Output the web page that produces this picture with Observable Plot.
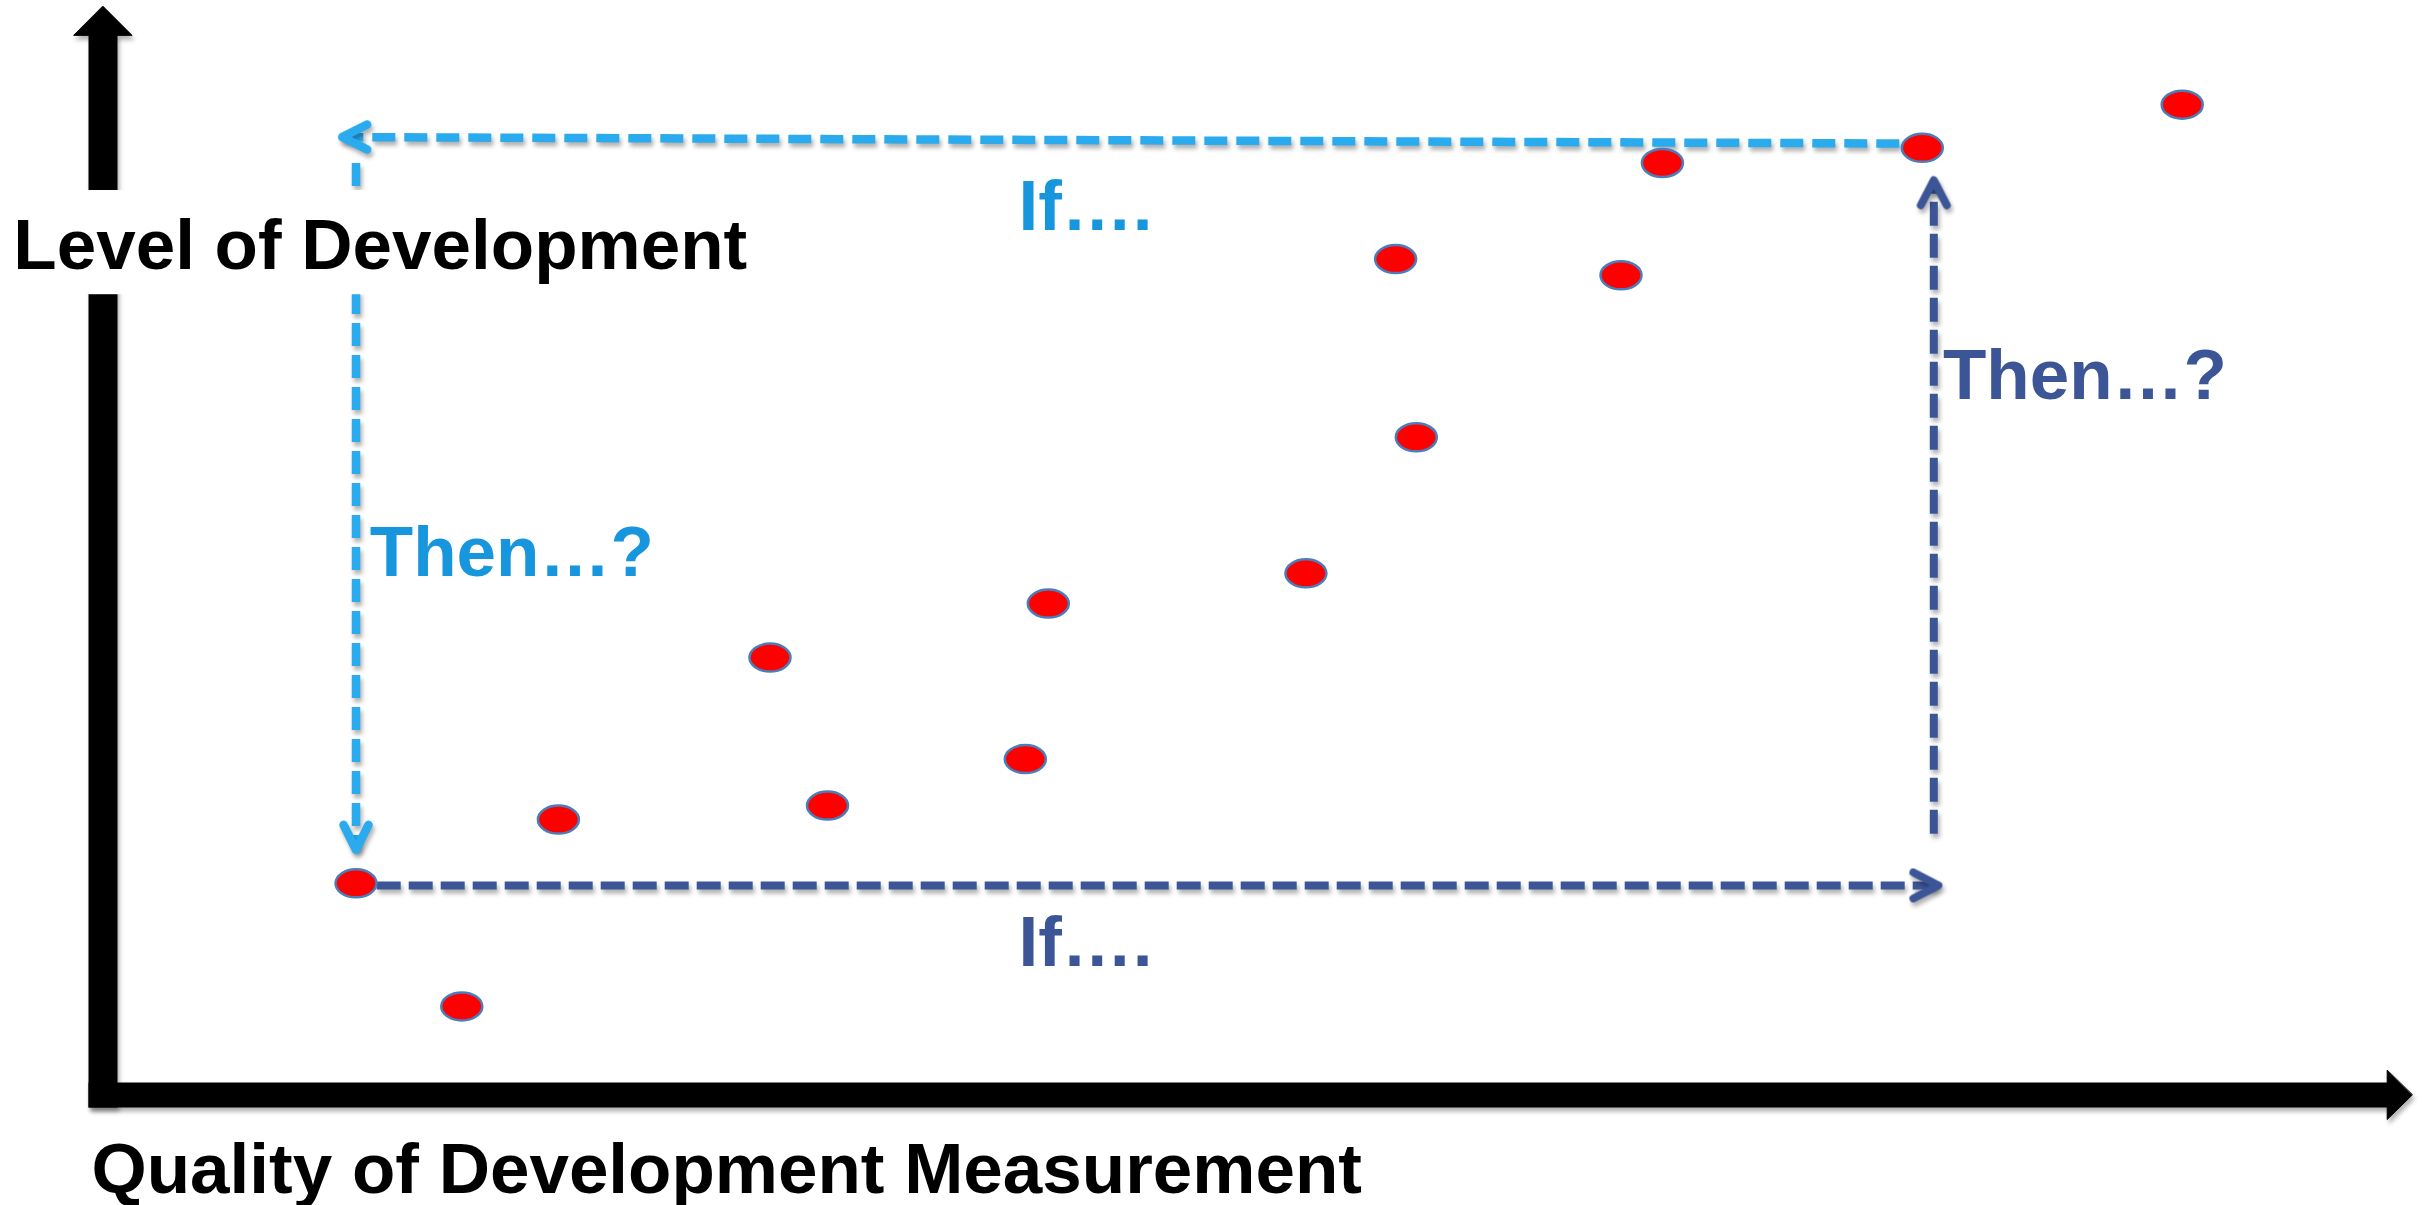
<!DOCTYPE html>
<html>
<head>
<meta charset="utf-8">
<script src="https://cdn.jsdelivr.net/npm/d3@7"></script>
<script src="https://cdn.jsdelivr.net/npm/@observablehq/plot@0.6"></script>
<style>
  html, body { margin: 0; padding: 0; background: #ffffff; }
  #chart svg { display: block; }
  #chart g[aria-label="link"],
  #chart g[aria-label="arrow"],
  #chart g[aria-label="vector"] { filter: drop-shadow(2px 4px 2px rgba(0,0,0,0.3)); }
</style>
</head>
<body>
<div id="chart"></div>
<script>
// ---- Data (x: quality of measurement, y: level of development; 0–100 units) ----
const pointX = [15.6, 11.0, 19.8, 31.5, 29.0, 40.1, 41.1, 52.3, 57.1, 56.2, 66.0, 67.8, 79.1, 90.4];
const pointY = [8.2, 19.6, 25.5, 26.8, 40.5, 31.1, 45.5, 48.3, 60.9, 77.4, 75.9, 86.3, 87.7, 91.7];

// dashed "If / Then" arrows
const arrowGroup = ["light", "light", "dark", "dark"];
const arrowX1 = [78.1, 11.0, 11.9, 79.6];
const arrowY1 = [88.1, 86.3, 19.4, 24.2];
const arrowX2 = [10.4, 11.0, 79.8, 79.6];
const arrowY2 = [88.7, 22.7, 19.4, 84.7];
const arrowDir = ["left", "down", "right", "up"];

// black axes (start, arrow tip)
const axisDir = ["up", "right"];
const axisX1 = [0, -0.63];
const axisY1 = [-1.16, 0];
const axisX2 = [0, 100.4];
const axisY2 = [100.8, 0];

// text labels
const labelText = ["Level of Development", "Quality of Development Measurement", "If….", "Then…?", "If….", "Then…?"];
const labelGroup = ["axis", "axis", "light", "light", "dark", "dark"];
const labelX = [-3.9, -0.5, 39.8, 11.6, 39.8, 80.0];
const labelY = [76.5, -9.1, 80.1, 48.1, 11.9, 64.4];

// white knock-out box behind the y-axis title
const boxX1 = [-4.0], boxX2 = [28.2], boxY1 = [74.1], boxY2 = [83.75];

// ---- Tables built from the arrays ----
const points = pointX.map((x, i) => ({x, y: pointY[i]}));
const arrows = arrowGroup.map((g, i) => ({group: g, x1: arrowX1[i], y1: arrowY1[i], x2: arrowX2[i], y2: arrowY2[i], dir: arrowDir[i]}));
const axes = axisDir.map((d, i) => ({dir: d, x1: axisX1[i], y1: axisY1[i], x2: axisX2[i], y2: axisY2[i]}));
const labels = labelText.map((t, i) => ({text: t, group: labelGroup[i], x: labelX[i], y: labelY[i]}));
const boxes = boxX1.map((x1, i) => ({x1, x2: boxX2[i], y1: boxY1[i], y2: boxY2[i]}));

const rot = {up: 0, right: 90, down: 180, left: -90};
const LIGHT = "#2aabee", LIGHT_TEXT = "#1896dd", DARK = "#3c5597";
const textColor = {axis: "#000000", light: LIGHT_TEXT, dark: DARK};

// custom shapes
const ellipse = {
  draw(context) {
    const rx = 20.5, ry = 14, k = 0.5523;
    context.moveTo(rx, 0);
    context.bezierCurveTo(rx, ry * k, rx * k, ry, 0, ry);
    context.bezierCurveTo(-rx * k, ry, -rx, ry * k, -rx, 0);
    context.bezierCurveTo(-rx, -ry * k, -rx * k, -ry, 0, -ry);
    context.bezierCurveTo(rx * k, -ry, rx, -ry * k, rx, 0);
    context.closePath();
  }
};
const chevron = {draw(context, l, r) { context.moveTo(-r, l); context.lineTo(0, 0); context.lineTo(r, l); }};
const wedge = {draw(context, l, r) { context.moveTo(0, 0); context.lineTo(r, l); context.lineTo(-r, l); context.closePath(); }};

const chart = Plot.plot({
  width: 2427,
  height: 1205,
  marginLeft: 102.5,
  marginRight: 24.5,
  marginTop: 14.5,
  marginBottom: 110.5,
  x: {domain: [0, 100], axis: null},
  y: {domain: [0, 100], axis: null},
  style: {fontFamily: "'Liberation Sans', Arial, Helvetica, sans-serif", background: "#ffffff", overflow: "visible"},
  marks: [
    // black axes: shafts
    Plot.arrow(axes, {filter: d => d.dir === "up", x1: "x1", y1: "y1", x2: "x2", y2: "y2",
      stroke: "#000", strokeWidth: 29, headLength: 0, insetEnd: 28, strokeLinecap: "butt"}),
    Plot.arrow(axes, {filter: d => d.dir === "right", x1: "x1", y1: "y1", x2: "x2", y2: "y2",
      stroke: "#000", strokeWidth: 25, headLength: 0, insetEnd: 24, strokeLinecap: "butt"}),
    // black axes: heads
    Plot.vector(axes, {filter: d => d.dir === "up", x: "x2", y: "y2", rotate: d => rot[d.dir],
      shape: wedge, length: 29, r: 29, anchor: "start", fill: "#000", stroke: "#000", strokeWidth: 1}),
    Plot.vector(axes, {filter: d => d.dir === "right", x: "x2", y: "y2", rotate: d => rot[d.dir],
      shape: wedge, length: 25, r: 24.5, anchor: "start", fill: "#000", stroke: "#000", strokeWidth: 1}),

    // dashed arrows: shafts
    Plot.link(arrows, {filter: d => d.group === "light", x1: "x1", y1: "y1", x2: "x2", y2: "y2",
      stroke: LIGHT, strokeWidth: 8.5, strokeDasharray: "23,9", strokeLinecap: "butt"}),
    Plot.link(arrows, {filter: d => d.group === "dark", x1: "x1", y1: "y1", x2: "x2", y2: "y2",
      stroke: DARK, strokeWidth: 8, strokeDasharray: "24,8", strokeLinecap: "butt"}),
    // dashed arrows: open chevron heads
    Plot.vector(arrows, {filter: d => d.group === "light", x: "x2", y: "y2", rotate: d => rot[d.dir],
      shape: chevron, length: 25, r: 12.5, anchor: "start", stroke: LIGHT, strokeWidth: 8.5,
      strokeLinecap: "round", strokeLinejoin: "round"}),
    Plot.vector(arrows, {filter: d => d.group === "dark", x: "x2", y: "y2", rotate: d => rot[d.dir],
      shape: chevron, length: 25, r: 13, anchor: "start", stroke: DARK, strokeWidth: 8,
      strokeLinecap: "round", strokeLinejoin: "round"}),

    // knock-out behind y title
    Plot.rect(boxes, {x1: "x1", x2: "x2", y1: "y1", y2: "y2", fill: "#ffffff"}),

    // labels
    Plot.text(labels, {x: "x", y: "y", text: "text", fill: d => textColor[d.group],
      textAnchor: "start", lineAnchor: "bottom", fontSize: 71, fontWeight: "bold"}),

    // points
    Plot.dot(points, {x: "x", y: "y", symbol: ellipse, fill: "#ff0000", stroke: "#4a7ebb", strokeWidth: 2.5})
  ]
});
document.getElementById("chart").append(chart);
</script>
</body>
</html>
